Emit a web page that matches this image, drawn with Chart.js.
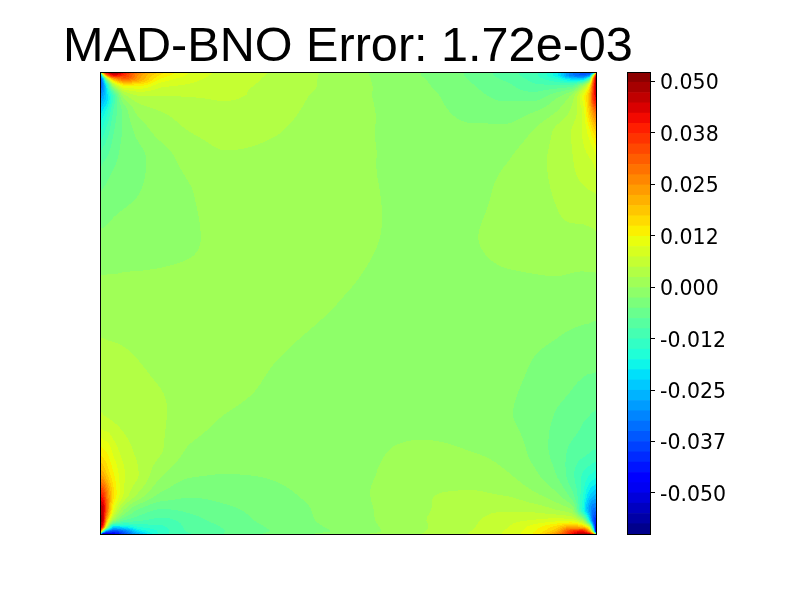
<!DOCTYPE html>
<html>
<head>
<meta charset="utf-8">
<script src="https://cdn.jsdelivr.net/npm/chart.js@4"></script>
<style>
  html, body { margin: 0; padding: 0; background: #fff; }
  #wrap { position: relative; width: 800px; height: 600px; overflow: hidden; }
  #field { position: absolute; left: 0; top: 0; }
  #bar { position: absolute; left: 620px; top: 0; }
</style>
</head>
<body>
<div id="wrap">
  <canvas id="field" width="696" height="600"></canvas>
  <canvas id="bar" width="180" height="600"></canvas>
</div>
<script>
const titleText = 'MAD-BNO Error: 1.72e-03';

// colorbar
const zMin = -0.06;
const zMax = 0.0523;
const bandCount = 45;
const tickValues = [0.05, 0.0375, 0.025, 0.0125, 0, -0.0125, -0.025, -0.0375, -0.05];
const tickLabels = ['0.050', '0.038', '0.025', '0.012', '0.000', '-0.012', '-0.025', '-0.037', '-0.050'];

// sample grid, denser towards the corners
const xGrid = [0, 3, 7, 14, 25, 40, 62, 90, 125, 175, 248, 321, 371, 406, 434, 456, 471, 482, 489, 493, 496];
const yGrid = [0, 3, 7, 14, 25, 40, 60, 85, 120, 165, 231, 297, 342, 377, 402, 422, 437, 448, 455, 459, 462];

// error, in colorbar bands (0 = bottom band, 45 = top)
const bandRows = [
  [24, 38, 43, 44.3, 40, 35, 30.5, 28, 26.7, 25.9, 24.4, 23, 21.8, 20.4, 19.3, 16.5, 11.5, 9.5, 7.5, 5, 24],
  [7, 25, 36, 41, 38.5, 33.5, 29.8, 27.8, 26.6, 25.85, 24.4, 23, 21.8, 20.5, 19.3, 16.5, 11.5, 10, 11, 24, 41],
  [8, 14, 25, 33, 36, 33, 28.8, 27.4, 26.5, 25.8, 24.4, 23.1, 21.9, 20.8, 19.6, 18, 15.5, 15, 20, 34, 44],
  [9.5, 12, 17, 25, 29, 29, 27.2, 26.8, 26.3, 25.75, 24.4, 23.2, 22.1, 21.3, 20.3, 20.3, 20.5, 24, 29, 37, 43.5],
  [12, 13.5, 15.5, 19.5, 24.5, 25.8, 25.9, 26, 26.1, 25.55, 24.3, 23.4, 22.3, 21.8, 21.6, 22.8, 24.3, 28, 32, 38, 41.5],
  [15.5, 16.3, 17.6, 20.3, 22.5, 24.4, 25, 25.4, 25.7, 25.3, 24.3, 23.5, 22.7, 22.5, 23, 24, 25.2, 27, 31, 34, 36],
  [18, 18.6, 19.5, 21, 22.3, 23.4, 24.4, 25, 25.3, 25.05, 24.25, 23.6, 23.2, 23.3, 24.1, 25.2, 26, 27, 28.5, 30, 31],
  [20.3, 20.7, 21, 21.7, 22.4, 22.8, 23.6, 24.4, 24.9, 24.8, 24.3, 23.6, 23.5, 23.9, 24.6, 25.3, 25.9, 26.6, 27, 27.3, 28],
  [22, 22.1, 22.3, 22.6, 22.8, 23, 23.4, 23.95, 24.4, 24.6, 24.3, 23.7, 23.75, 24.25, 24.7, 25.1, 25.6, 25.8, 25.95, 26, 26.1],
  [23.2, 23.2, 23.25, 23.3, 23.4, 23.45, 23.6, 23.85, 24.3, 24.4, 24.2, 23.8, 23.95, 24.3, 24.5, 24.7, 24.7, 24.7, 24.75, 24.8, 24.85],
  [24.5, 24.5, 24.5, 24.5, 24.5, 24.5, 24.5, 24.5, 24.45, 24.3, 23.95, 23.6, 23.55, 23.55, 23.55, 23.5, 23.45, 23.4, 23.4, 23.35, 23.35],
  [25.4, 25.4, 25.35, 25.3, 25.2, 25.05, 24.85, 24.55, 24.3, 23.97, 23.6, 23.45, 23.4, 23.3, 22.9, 22.6, 22.35, 22.2, 22.1, 22.1, 22.05],
  [26.1, 26, 25.9, 25.75, 25.55, 25.35, 25.1, 24.4, 24, 23.8, 23.5, 23.5, 23.45, 23.1, 22.6, 21.95, 21.6, 21.2, 21.05, 20.95, 20.9],
  [29.5, 29, 28.7, 27.5, 26.4, 25.7, 25.05, 23.9, 23.6, 23.4, 23.6, 24.2, 23.95, 23.55, 22.7, 21.6, 20.85, 20.5, 20.2, 20.05, 20],
  [33, 32.5, 31, 29, 27, 25.9, 24.1, 23.15, 23, 23.1, 23.6, 24.55, 24.6, 24.1, 23.2, 22, 20.4, 19, 18.2, 17.8, 17.5],
  [39.5, 38.5, 35, 30, 26.7, 24.7, 22.8, 22.2, 22.4, 22.8, 23.6, 24.9, 25.1, 24.9, 24.15, 23.2, 21.5, 18.5, 15.5, 14.5, 14],
  [43, 42, 36, 28, 24, 21.9, 21, 21.3, 21.8, 22.5, 23.55, 24.85, 25.5, 25.8, 25.6, 24.9, 24, 18, 13, 11, 10.5],
  [44, 42, 32, 24, 21, 20.2, 19.7, 20.6, 21.4, 22.4, 23.5, 24.9, 25.8, 26.6, 27.05, 27.5, 27.5, 25, 17, 10, 7],
  [44, 38, 25, 15, 16, 18, 18.8, 20.3, 21.1, 22.2, 23.4, 24.85, 25.9, 26.9, 28.5, 30.5, 33, 32, 28, 16, 5],
  [41, 23, 12, 9, 11, 16, 18.4, 20.2, 21, 22.1, 23.3, 24.9, 26, 27.1, 28.9, 32, 38, 40, 34, 23, 3],
  [24, 2.5, 3, 5, 9, 14, 18.5, 19.9, 21.05, 22.3, 23.65, 25, 26.1, 27.2, 29.2, 34, 40, 43.5, 43, 36, 24]
];

const zStep = (zMax - zMin) / bandCount;

// matplotlib jet
function ramp(t, stops) {
  for (let i = 1; i < stops.length; i++) {
    if (t <= stops[i][0]) {
      const a = stops[i - 1], b = stops[i];
      return a[1] + (b[1] - a[1]) * (t - a[0]) / (b[0] - a[0]);
    }
  }
  return stops[stops.length - 1][1];
}
function jet(t) {
  const r = ramp(t, [[0, 0], [0.35, 0], [0.66, 1], [0.89, 1], [1, 0.5]]);
  const g = ramp(t, [[0, 0], [0.125, 0], [0.375, 1], [0.64, 1], [0.91, 0], [1, 0]]);
  const b = ramp(t, [[0, 0.5], [0.11, 1], [0.34, 1], [0.65, 0], [1, 0]]);
  return `rgb(${Math.round(r * 255)},${Math.round(g * 255)},${Math.round(b * 255)})`;
}
const bandColors = [];
for (let k = 0; k < bandCount; k++) bandColors.push(jet((k + 0.5) / bandCount));

function findCell(grid, v) {
  let i = 0;
  while (i < grid.length - 2 && v > grid[i + 1]) i++;
  return i;
}

// slopes for a smooth curve through the samples, flat at local extremes
function slopes(grid, vals) {
  const d = [], m = [];
  for (let i = 0; i < grid.length - 1; i++) d.push((vals[i + 1] - vals[i]) / (grid[i + 1] - grid[i]));
  m.push(d[0]);
  for (let i = 1; i < grid.length - 1; i++) {
    m.push(d[i - 1] * d[i] <= 0 ? 0 : 2 * d[i - 1] * d[i] / (d[i - 1] + d[i]));
  }
  m.push(d[d.length - 1]);
  return m;
}
function curveAt(grid, vals, m, v) {
  const i = findCell(grid, v);
  const h = grid[i + 1] - grid[i];
  const t = (v - grid[i]) / h;
  const t2 = t * t, t3 = t2 * t;
  return (2 * t3 - 3 * t2 + 1) * vals[i] + (t3 - 2 * t2 + t) * h * m[i]
    + (3 * t2 - 2 * t3) * vals[i + 1] + (t3 - t2) * h * m[i + 1];
}

// filled contours: every pixel of the plot area gets the band of the grid value under it
const contourPlugin = {
  id: 'contourFill',
  beforeDatasetsDraw(chart) {
    const { ctx, chartArea: a, scales: { x, y } } = chart;
    const top = Math.round(a.top), bottom = Math.round(a.bottom);
    const left = Math.round(a.left), right = Math.round(a.right);
    const columns = xGrid.map((_, i) => bandRows.map(row => row[i]));
    const colSlopes = columns.map(col => slopes(yGrid, col));
    for (let py = top; py < bottom; py++) {
      const vy = y.getValueForPixel(py + 0.5);
      const rowVals = columns.map((col, i) => curveAt(yGrid, col, colSlopes[i], vy));
      const rowSlopes = slopes(xGrid, rowVals);
      let runStart = left, runBand = -1;
      for (let px = left; px <= right; px++) {
        let band = -2;
        if (px < right) {
          const v = curveAt(xGrid, rowVals, rowSlopes, x.getValueForPixel(px + 0.5));
          band = Math.max(0, Math.min(bandCount - 1, Math.floor(v)));
        }
        if (band !== runBand) {
          if (runBand >= 0) {
            ctx.fillStyle = bandColors[runBand];
            ctx.fillRect(runStart, py, px - runStart, 1);
          }
          runStart = px;
          runBand = band;
        }
      }
    }
  }
};

const framePlugin = {
  id: 'frame',
  afterDraw(chart) {
    const { ctx, chartArea: a } = chart;
    ctx.save();
    ctx.strokeStyle = '#000';
    ctx.lineWidth = 1;
    ctx.strokeRect(Math.round(a.left) + 0.5, Math.round(a.top) + 0.5, Math.round(a.right - a.left), Math.round(a.bottom - a.top));
    ctx.restore();
  }
};

// colorbar labels, placed from the scale so the digits sit level with the tick marks
const tickLabelPlugin = {
  id: 'tickLabels',
  afterDraw(chart) {
    const { ctx, chartArea: a, scales: { y } } = chart;
    ctx.save();
    ctx.fillStyle = '#000';
    ctx.font = '20.5px "DejaVu Sans"';
    ctx.textAlign = 'left';
    ctx.textBaseline = 'alphabetic';
    tickValues.forEach((v, i) => {
      ctx.fillText(tickLabels[i], a.right + 10, Math.round(y.getPixelForValue(v)) + 8);
    });
    ctx.restore();
  }
};

const gridPoints = [];
yGrid.forEach((yv, j) => xGrid.forEach((xv, i) => {
  gridPoints.push({ x: xv, y: yv, z: zMin + bandRows[j][i] * zStep });
}));

// empty side axes keep the plot inset while the title gets the full width
const sideAxis = {
  display: true,
  reverse: true,
  min: yGrid[0],
  max: yGrid[yGrid.length - 1],
  ticks: { display: false },
  grid: { display: false },
  border: { display: false },
  afterFit(scale) { scale.width = 100; }
};

new Chart(document.getElementById('field'), {
  type: 'scatter',
  data: { datasets: [{ data: gridPoints, pointRadius: 0, pointHoverRadius: 0 }] },
  options: {
    responsive: false,
    animation: false,
    layout: { padding: { left: 0, right: 0, top: 0, bottom: 66 } },
    scales: {
      x: { display: false, min: xGrid[0], max: xGrid[xGrid.length - 1] },
      y: { ...sideAxis, position: 'left' },
      yRight: { ...sideAxis, position: 'right' }
    },
    plugins: {
      legend: { display: false },
      tooltip: { enabled: false },
      title: {
        display: true,
        text: titleText,
        color: '#000',
        font: { family: '"Liberation Sans", Arial, sans-serif', size: 48.6, weight: 'normal', lineHeight: 1 },
        padding: { top: 23, bottom: 0.4 }
      }
    }
  },
  plugins: [contourPlugin, framePlugin]
});

// one floating bar per colorbar band
const bandDatasets = bandColors.map((color, k) => ({
  data: [[zMin + k * zStep, zMin + (k + 1) * zStep]],
  backgroundColor: color,
  borderWidth: 0,
  grouped: false,
  barPercentage: 1,
  categoryPercentage: 1
}));

new Chart(document.getElementById('bar'), {
  type: 'bar',
  data: { labels: [''], datasets: bandDatasets },
  options: {
    responsive: false,
    animation: false,
    layout: { padding: { left: 7, right: 0, top: 72, bottom: 66 } },
    scales: {
      x: { display: false },
      y: {
        position: 'right',
        min: zMin,
        max: zMax,
        afterBuildTicks(scale) { scale.ticks = tickValues.map(v => ({ value: v })); },
        afterFit(scale) { scale.width = 150; },
        border: { display: true, color: '#000' },
        grid: { drawOnChartArea: false, color: '#000', tickLength: 5, tickColor: '#000' },
        ticks: { display: false }
      }
    },
    plugins: { legend: { display: false }, tooltip: { enabled: false } }
  },
  plugins: [framePlugin, tickLabelPlugin]
});
</script>
</body>
</html>
